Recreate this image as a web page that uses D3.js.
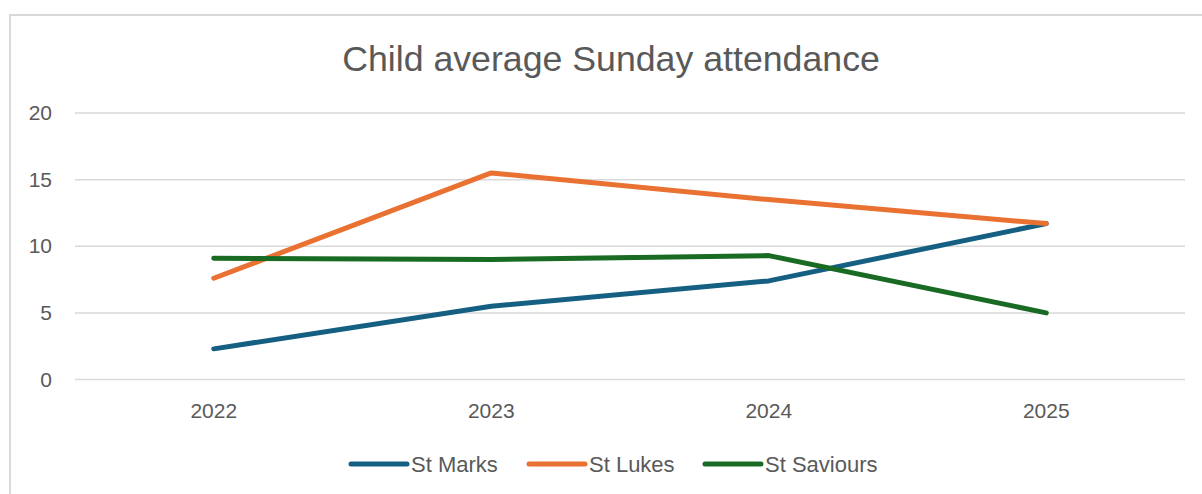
<!DOCTYPE html>
<html><head><meta charset="utf-8">
<script src="https://cdn.jsdelivr.net/npm/d3@7"></script>
<style>body{margin:0;background:#fff}svg{display:block}</style>
</head><body>
<svg id="chart" width="1202" height="494"></svg>
<script>
const title = "Child average Sunday attendance";
const years = ["2022", "2023", "2024", "2025"];
const seriesNames = ["St Marks", "St Lukes", "St Saviours"];
const stMarks = [2.3, 5.5, 7.4, 11.7];
const stLukes = [7.6, 15.5, 13.5, 11.7];
const stSaviours = [9.1, 9.0, 9.3, 5.0];
const yTicks = [0, 5, 10, 15, 20];
const colors = ["#156082", "#E97132", "#196B24"];

const series = [stMarks, stLukes, stSaviours].map((v, i) => ({name: seriesNames[i], values: v, color: colors[i]}));

const svg = d3.select("#chart");
const font = "'Liberation Sans', Arial, sans-serif";
const textColor = "#595959";

// outer border
svg.append("rect").attr("x", 10).attr("y", 15).attr("width", 1210).attr("height", 500)
  .attr("fill", "none").attr("stroke", "#d9d9d9").attr("stroke-width", 2);

svg.append("text").attr("x", 611).attr("y", 71).attr("text-anchor", "middle")
  .attr("font-family", font).attr("font-size", 35.7).attr("fill", textColor).text(title);

const x = d3.scaleBand().domain(years).range([75, 1185]);
const y = d3.scaleLinear().domain([0, 20]).range([379.5, 113]);

// gridlines
svg.append("g").selectAll("line").data(yTicks).join("line")
  .attr("x1", 75).attr("x2", 1185)
  .attr("y1", d => y(d)).attr("y2", d => y(d))
  .attr("stroke", "#d9d9d9").attr("stroke-width", 1.5);

// y axis
const yAxis = svg.append("g").attr("transform", "translate(52,0)")
  .call(d3.axisLeft(y).tickValues(yTicks).tickSize(0).tickPadding(0));
yAxis.select(".domain").remove();
yAxis.selectAll("text").attr("font-family", font).attr("font-size", 21).attr("fill", textColor);

// x axis
const xAxis = svg.append("g").attr("transform", "translate(0,395)")
  .call(d3.axisBottom(x).tickSize(0).tickPadding(8));
xAxis.select(".domain").remove();
xAxis.selectAll("text").attr("font-family", font).attr("font-size", 21).attr("fill", textColor);

const line = d3.line().x((d, i) => x(years[i]) + x.bandwidth() / 2).y(d => y(d));

svg.append("g").selectAll("path").data(series).join("path")
  .attr("d", d => line(d.values))
  .attr("fill", "none").attr("stroke", d => d.color).attr("stroke-width", 5)
  .attr("stroke-linecap", "round").attr("stroke-linejoin", "round");

// legend
const legendX = [351, 529, 705];
const lg = svg.append("g").selectAll("g").data(series).join("g")
  .attr("transform", (d, i) => `translate(${legendX[i]},464)`);
lg.append("line").attr("x1", 0).attr("x2", 56).attr("y1", 0).attr("y2", 0)
  .attr("stroke", d => d.color).attr("stroke-width", 5).attr("stroke-linecap", "round");
lg.append("text").attr("x", 60).attr("y", 0).attr("dy", "0.35em")
  .attr("font-family", font).attr("font-size", 22).attr("fill", textColor).text(d => d.name);
</script>
</body></html>
